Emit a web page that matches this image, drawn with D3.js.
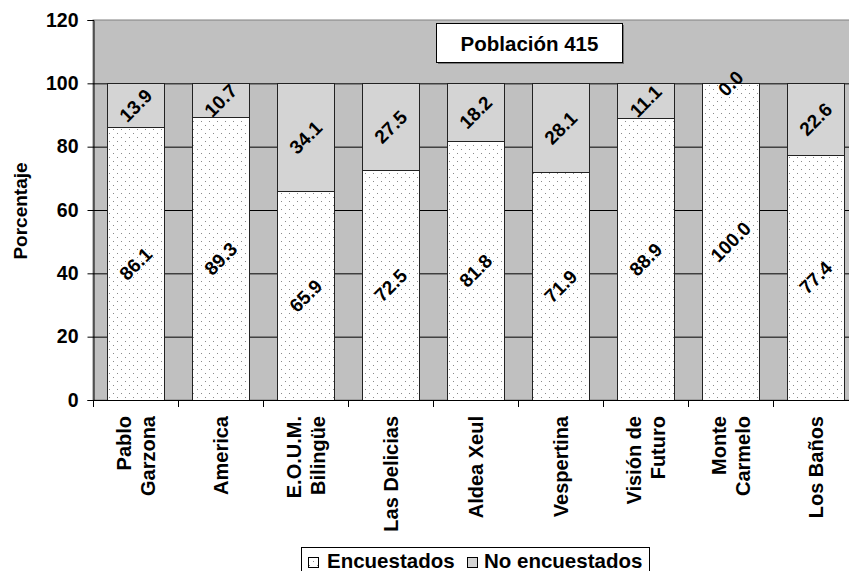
<!DOCTYPE html>
<html>
<head>
<meta charset="utf-8">
<script src="https://cdn.jsdelivr.net/npm/d3@7/dist/d3.min.js"></script>
<style>
  html, body { margin: 0; padding: 0; background: #fff; }
  svg { display: block; }
  text { font-family: Arial, "Liberation Sans", sans-serif; font-weight: bold; fill: #000; }
</style>
</head>
<body>
<svg id="chart" width="849" height="571"></svg>
<script>
// Survey coverage per school (percent)
const categories = [
  ["Pablo", "Garzona"],
  ["America"],
  ["E.O.U.M.", "Bilingüe"],
  ["Las Delicias"],
  ["Aldea Xeul"],
  ["Vespertina"],
  ["Visión de", "Futuro"],
  ["Monte", "Carmelo"],
  ["Los Baños"]
];
const encuestados   = [86.1, 89.3, 65.9, 72.5, 81.8, 71.9, 88.9, 100.0, 77.4];
const noEncuestados = [13.9, 10.7, 34.1, 27.5, 18.2, 28.1, 11.1, 0.0, 22.6];
const yTicks = [0, 20, 40, 60, 80, 100, 120];
const seriesNames = ["Encuestados", "No encuestados"];
const titleText = "Población 415";
const yTitle = "Porcentaje";

const svg = d3.select("#chart");
const plot = { left: 93, right: 858, top: 20, bottom: 400 };

const keys = categories.map(c => c.join(" "));
const x = d3.scaleBand()
  .domain(keys)
  .range([plot.left, plot.right])
  .paddingInner(0.335)
  .paddingOuter(0.1675);
const y = d3.scaleLinear().domain([0, 120]).range([plot.bottom, plot.top]);

// dotted fill for the surveyed share
const defs = svg.append("defs");
const pat = defs.append("pattern")
  .attr("id", "dots").attr("patternUnits", "userSpaceOnUse")
  .attr("width", 8).attr("height", 8);
pat.append("rect").attr("width", 8).attr("height", 8).attr("fill", "#fff");
pat.append("rect").attr("x", 1).attr("y", 1).attr("width", 1).attr("height", 1).attr("fill", "#8a8a8a");
pat.append("rect").attr("x", 5).attr("y", 5).attr("width", 1).attr("height", 1).attr("fill", "#8a8a8a");

const colors = { top: "#d4d4d4", bg: "#c0c0c0", edge: "#222" };

// plot background
svg.append("rect")
  .attr("x", plot.left).attr("y", plot.top)
  .attr("width", plot.right - plot.left).attr("height", plot.bottom - plot.top)
  .attr("fill", colors.bg).attr("stroke", "#808080");

// horizontal gridlines
svg.append("g").selectAll("line")
  .data(yTicks.filter(t => t > 0 && t < 120))
  .join("line")
  .attr("x1", plot.left).attr("x2", plot.right)
  .attr("y1", d => y(d) + 0.5).attr("y2", d => y(d) + 0.5)
  .attr("stroke", "#000").attr("stroke-width", 1);

// stacked bars
const rows = keys.map((k, i) => ({ key: k, a: encuestados[i], b: noEncuestados[i] }));
const bars = svg.append("g");
bars.selectAll("rect.enc").data(rows).join("rect")
  .attr("class", "enc")
  .attr("x", d => Math.round(x(d.key)) + 0.5)
  .attr("y", d => Math.round(y(d.a)) + 0.5)
  .attr("width", Math.round(x.bandwidth()))
  .attr("height", d => Math.round(y(0)) - Math.round(y(d.a)))
  .attr("fill", "url(#dots)").attr("stroke", colors.edge);
bars.selectAll("rect.no").data(rows.filter(d => d.b > 0)).join("rect")
  .attr("class", "no")
  .attr("x", d => Math.round(x(d.key)) + 0.5)
  .attr("y", d => Math.round(y(d.a + d.b)) + 0.5)
  .attr("width", Math.round(x.bandwidth()))
  .attr("height", d => Math.round(y(d.a)) - Math.round(y(d.a + d.b)))
  .attr("fill", colors.top).attr("stroke", colors.edge);

// value labels, tilted
const fmt = d3.format(".1f");
const labels = svg.append("g");
rows.forEach(d => {
  const cx = x(d.key) + x.bandwidth() / 2;
  [[d.a, d.a / 2], [d.b, d.a + d.b / 2]].forEach(([v, mid]) => {
    labels.append("text")
      .attr("transform", `translate(${cx},${y(mid)}) rotate(-45)`)
      .attr("text-anchor", "middle").attr("dy", "0.36em")
      .style("font-size", "19px")
      .text(fmt(v));
  });
});

// y axis
const yAxis = svg.append("g").attr("transform", `translate(${plot.left + 0.5},0)`)
  .call(d3.axisLeft(y).tickValues(yTicks).tickSize(6).tickPadding(9).tickFormat(d3.format("d")));
yAxis.attr("font-family", null).attr("font-size", null);
yAxis.select(".domain").attr("stroke", "#000");
yAxis.selectAll(".tick line").attr("stroke", "#000");
yAxis.selectAll(".tick text").style("font-size", "19.5px");

// x axis with ticks between categories
svg.append("line")
  .attr("x1", plot.left).attr("x2", plot.right)
  .attr("y1", plot.bottom + 0.5).attr("y2", plot.bottom + 0.5)
  .attr("stroke", "#000");
const step = x.step();
const bounds = d3.range(keys.length + 1).map(i => plot.left + i * step);
svg.append("g").selectAll("line").data(bounds).join("line")
  .attr("x1", d => Math.round(d) + 0.5).attr("x2", d => Math.round(d) + 0.5)
  .attr("y1", plot.bottom).attr("y2", plot.bottom + 7)
  .attr("stroke", "#000");

// category labels, vertical
const lineGap = 24;
const catG = svg.append("g");
categories.forEach((lines, i) => {
  const cx = x(keys[i]) + x.bandwidth() / 2;
  const t = catG.append("text")
    .attr("transform", `translate(${cx},416) rotate(-90)`)
    .attr("text-anchor", "end")
    .style("font-size", "20px");
  lines.forEach((ln, j) => {
    const off = (j - (lines.length - 1) / 2) * lineGap;
    t.append("tspan").attr("x", 0).attr("y", off).attr("dy", "0.36em").text(ln);
  });
});

// y axis title
svg.append("text")
  .attr("transform", "translate(20,211) rotate(-90)")
  .attr("text-anchor", "middle").attr("dy", "0.36em")
  .style("font-size", "19px")
  .text(yTitle);

// title box
svg.append("rect").attr("x", 438).attr("y", 25).attr("width", 186).attr("height", 39).attr("fill", "#777");
svg.append("rect").attr("x", 436.5).attr("y", 23.5).attr("width", 186).attr("height", 39)
  .attr("fill", "#fff").attr("stroke", "#000");
svg.append("text").attr("x", 529.5).attr("y", 50.5).attr("text-anchor", "middle")
  .style("font-size", "20.5px").text(titleText);

// legend
const leg = svg.append("g");
leg.append("rect").attr("x", 301.5).attr("y", 547.5).attr("width", 348).attr("height", 40)
  .attr("fill", "#fff").attr("stroke", "#000");
const legItems = [
  { name: seriesNames[0], fill: "url(#dots)", mx: 308, tx: 327 },
  { name: seriesNames[1], fill: colors.top, mx: 467, tx: 484 }
];
legItems.forEach(it => {
  leg.append("rect").attr("x", it.mx + 0.5).attr("y", 557.5).attr("width", 10).attr("height", 10)
    .attr("fill", it.fill).attr("stroke", "#000");
  leg.append("text").attr("x", it.tx).attr("y", 568).style("font-size", "20.5px").text(it.name);
});
</script>
</body>
</html>
